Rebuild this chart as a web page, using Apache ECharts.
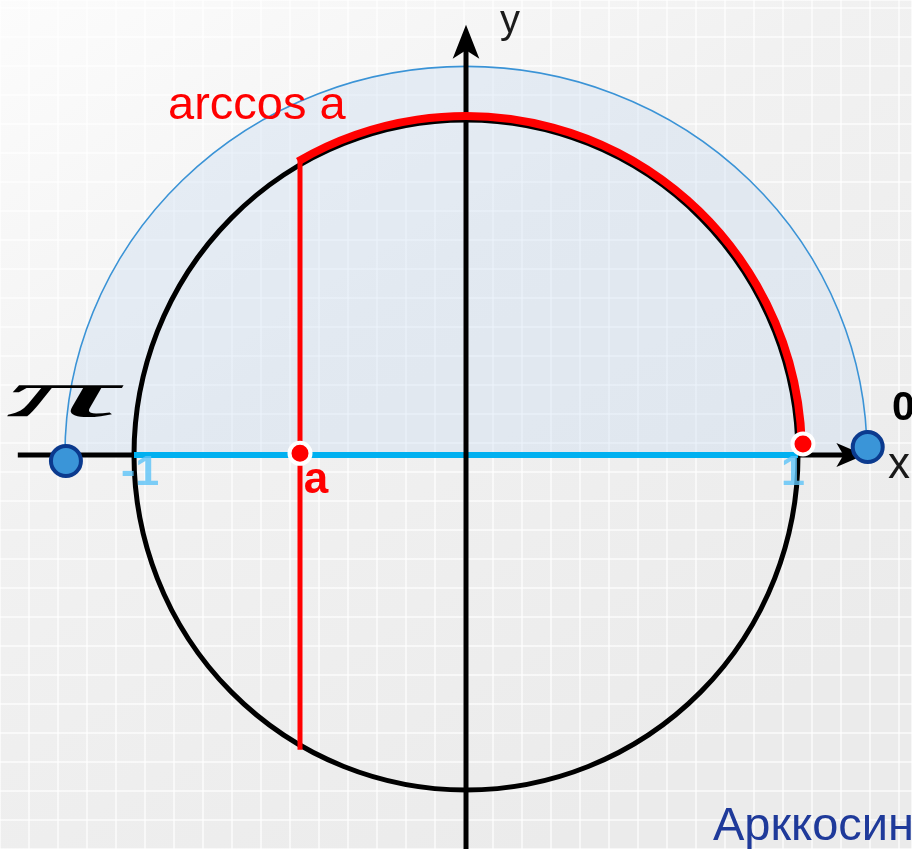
<!DOCTYPE html>
<html>
<head>
<meta charset="utf-8">
<script src="https://cdn.jsdelivr.net/npm/echarts@6/dist/echarts.min.js"></script>
<style>
html,body{margin:0;padding:0;}
#main{width:912px;height:849px;}
</style>
</head>
<body>
<div id="main"></div>
<script>
// значение a и арккосинус
var aValue = [-0.5];
var tickValues = [-1, 1];
var tickLabels = ['-1', '1'];
var unitCircle = [0, 0, 1, 1];            // cx, cy, rx, ry
var redArc = [0, 0, 1.012, 1.012];        // дуга arccos a
var outerArc = [0, 0, 1.208, 1.16];       // дуга [0, pi]
var rangeEnds = [[-1.205, -0.018], [1.21, 0.024]];  // точки pi и 0
var redEnd = [[1.015, 0.033]];
var xAxisLine = [[-1.35, 0], [1.17, 0]];
var yAxisLine = [[0, -1.25], [0, 1.21]];
var arrowX = [[1.20, 0]];
var arrowY = [[0, 1.284]];

var X_MIN = -466 / 332, X_MAX = 446 / 332;
var Y_MAX = 455 / 335, Y_MIN = -394 / 335;

function arcSeries(item, a0, a1, style, z, sector){
  return {
    type: 'custom',
    xAxisIndex: 0, yAxisIndex: 0,
    z: z,
    silent: true,
    data: [item],
    renderItem: function(params, api){
      var c = api.coord([api.value(0), api.value(1)]);
      var s = api.size([api.value(2), api.value(3)]);
      return {
        type: sector ? 'sector' : 'arc',
        x: c[0], y: c[1],
        scaleY: s[1] / s[0],
        shape: {cx: 0, cy: 0, r: s[0], r0: 0, startAngle: a0, endAngle: a1, clockwise: true},
        style: style
      };
    }
  };
}

function lineSeries(data, color, width, z){
  return {
    type: 'line', xAxisIndex: 0, yAxisIndex: 0, z: z, silent: true,
    data: data, symbol: 'none',
    lineStyle: {color: color, width: width}
  };
}

var arccosA = Math.acos(aValue[0]);
var redEndAngle = Math.atan2(redEnd[0][1], redEnd[0][0]);
var halfChord = Math.sqrt(redArc[2] * redArc[2] - aValue[0] * aValue[0]);
var tickOffsets = [[6, 18], [-5, 18]];

var myChart = echarts.init(document.getElementById('main'));
var option = {
  animation: false,
  backgroundColor: {
    type: 'linear', x: 0, y: 0, x2: 0.6, y2: 1,
    colorStops: [{offset: 0, color: '#fcfcfc'}, {offset: 0.45, color: '#f1f1f1'}, {offset: 1, color: '#ebebeb'}]
  },
  grid: [
    {left: 0, right: 0, top: 0, bottom: 0},
    {left: 0, right: 0, top: 0, bottom: 0}
  ],
  xAxis: [
    {type: 'value', gridIndex: 0, min: X_MIN, max: X_MAX, show: false},
    {type: 'value', gridIndex: 1, min: 0, max: 912, interval: 29,
     axisLine: {show: false}, axisTick: {show: false}, axisLabel: {show: false},
     splitLine: {show: true, lineStyle: {color: 'rgba(255,255,255,0.6)', width: 2}}}
  ],
  yAxis: [
    {type: 'value', gridIndex: 0, min: Y_MIN, max: Y_MAX, show: false},
    {type: 'value', gridIndex: 1, min: 0, max: 849, interval: 29,
     axisLine: {show: false}, axisTick: {show: false}, axisLabel: {show: false},
     splitLine: {show: true, lineStyle: {color: 'rgba(255,255,255,0.6)', width: 2}}}
  ],
  series: [
    arcSeries(outerArc, -Math.PI, 0, {fill: 'rgba(200,220,240,0.36)', stroke: null}, 1, true),
    arcSeries(outerArc, -Math.PI, 0, {fill: null, stroke: '#3a93d6', lineWidth: 1.6}, 2, false),
    lineSeries(xAxisLine, '#000', 5, 3),
    arcSeries(unitCircle, 0, Math.PI * 2, {fill: null, stroke: '#000', lineWidth: 5}, 4, false),
    lineSeries([[tickValues[0], 0], [tickValues[1], 0]], '#00b0f0', 6, 5),
    lineSeries(yAxisLine, '#000', 5, 6),
    {
      type: 'scatter', z: 6, silent: true,
      data: arrowY, symbol: 'arrow', symbolSize: [20, 34],
      itemStyle: {color: '#000', opacity: 1}
    },
    {
      type: 'scatter', z: 3, silent: true,
      data: arrowX, symbol: 'arrow', symbolSize: [18, 28], symbolRotate: -90,
      itemStyle: {color: '#000', opacity: 1}
    },
    lineSeries([[aValue[0], -halfChord], [aValue[0], halfChord]], '#ff0000', 5, 7),
    arcSeries(redArc, -arccosA, -redEndAngle, {fill: null, stroke: '#ff0000', lineWidth: 8}, 7, false),
    {
      type: 'scatter', z: 8, silent: true,
      data: tickValues.map(function(v, i){
        return {value: [v, 0], label: {offset: tickOffsets[i]}};
      }),
      symbolSize: 0,
      label: {
        show: true, position: 'inside',
        formatter: function(p){ return tickLabels[p.dataIndex]; },
        fontFamily: 'Liberation Sans', fontSize: 43, fontWeight: 'bold', color: '#5cc3f7'
      }
    },
    {
      type: 'scatter', z: 9, silent: true,
      data: rangeEnds, symbolSize: 30,
      itemStyle: {color: '#3a95d8', borderColor: '#0b3a8e', borderWidth: 4, opacity: 1}
    },
    {
      type: 'scatter', z: 9, silent: true,
      data: [[aValue[0], 0.005]].concat(redEnd), symbolSize: 21,
      itemStyle: {color: '#ff0000', borderColor: '#ffffff', borderWidth: 4, opacity: 1},
      label: {
        show: true, position: 'inside',
        formatter: function(p){ return p.dataIndex === 0 ? 'a' : ''; },
        fontFamily: 'Liberation Sans', fontSize: 44, fontWeight: 'bold', color: '#ff0000',
        offset: [16, 28]
      }
    }
  ],
  graphic: [
    {type: 'text', z: 100, x: 168, y: 106,
     style: {text: 'arccos a', fill: '#ff0000', font: '47px "Liberation Sans"', align: 'left', verticalAlign: 'middle'}},
    {type: 'text', z: 100, x: 713, y: 827,
     style: {text: 'Арккосин', fill: '#1f3a9a', font: '47px "Liberation Sans"', align: 'left', verticalAlign: 'middle'}},
    {type: 'text', z: 100, x: 500, y: 22,
     style: {text: 'y', fill: '#1a1a1a', font: '40px "Liberation Sans"', align: 'left', verticalAlign: 'middle'}},
    {type: 'text', z: 100, x: 888, y: 466,
     style: {text: 'x', fill: '#1a1a1a', font: '44px "Liberation Sans"', align: 'left', verticalAlign: 'middle'}},
    {type: 'text', z: 100, x: 892, y: 409,
     style: {text: '0', fill: '#000', font: 'bold 41px "Liberation Sans"', align: 'left', verticalAlign: 'middle'}},
    {type: 'text', z: 100, x: 6, y: 398, scaleX: 3.3,
     style: {text: 'π', fill: '#000', font: 'italic 68px "Liberation Serif"', align: 'left', verticalAlign: 'middle'}}
  ]
};
myChart.setOption(option);
window.addEventListener('resize', function(){ myChart.resize(); });
</script>
</body>
</html>
